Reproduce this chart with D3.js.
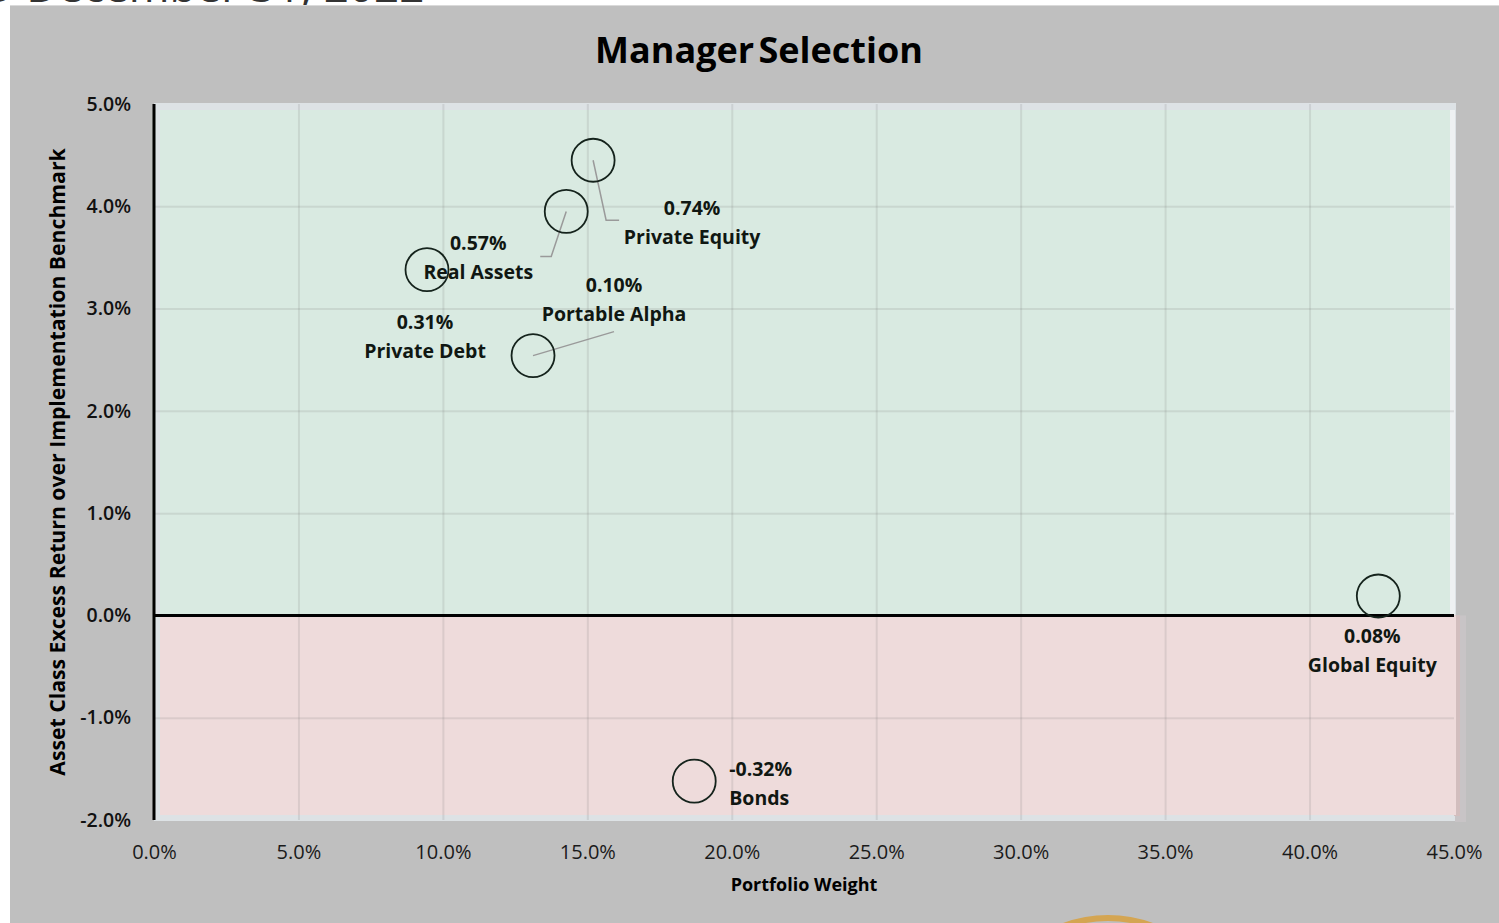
<!DOCTYPE html>
<html>
<head>
<meta charset="utf-8">
<script src="https://cdn.jsdelivr.net/npm/d3@7"></script>
<style>
  body { margin: 0; background: #fff; }
  svg { display: block; font-family: "Open Sans", Lato, sans-serif; }
</style>
</head>
<body>
<svg id="chart" width="1499" height="923"></svg>
<script>
// values
const categories = ["Private Equity", "Real Assets", "Private Debt", "Portable Alpha", "Global Equity", "Bonds"];
const weights = [15.2, 14.27, 9.45, 13.12, 42.38, 18.7];          // portfolio weight, %
const excess = [4.45, 3.95, 3.38, 2.54, 0.19, -1.62];            // excess return, %
const contrib = ["0.74%", "0.57%", "0.31%", "0.10%", "0.08%", "-0.32%"];
const xTicks = [0, 5, 10, 15, 20, 25, 30, 35, 40, 45];
const yTicks = [-2, -1, 0, 1, 2, 3, 4, 5];

// label placement, pixels relative to each bubble
const labelPos = [
  { dx: 99, dy: 48, anchor: "middle", leader: [[13, 60], [26, 60]] },
  { dx: -88, dy: 32, anchor: "middle", leader: [[-15, 45], [-26, 45]] },
  { dx: -2, dy: 52, anchor: "middle", leader: null },
  { dx: 81, dy: -70, anchor: "middle", leader: [[81, -24]] },
  { dx: -6, dy: 40, anchor: "middle", leader: null },
  { dx: 35, dy: -12, anchor: "start", leader: null }
];

const svg = d3.select("#chart");

// header text cut off by the panel
svg.append("text")
    .attr("x", -17).attr("y", 2)
    .style("font-size", "44px")
    .style("fill", "#333")
    .text("D December 31, 2022");

svg.append("rect")
    .attr("x", 10).attr("y", 5).attr("width", 1489).attr("height", 1)
    .attr("fill", "#dadada");
svg.append("rect")
    .attr("x", 10).attr("y", 6).attr("width", 1489).attr("height", 917)
    .attr("fill", "#bfbfbf");

const x = d3.scaleLinear().domain([0, 45]).range([154, 1454]);
const y = d3.scaleLinear().domain([-2, 5]).range([820, 104]);

// plot area
svg.append("rect")
    .attr("x", x(0)).attr("y", y(5) - 1)
    .attr("width", x(45) - x(0) + 2).attr("height", y(-2) - y(5) + 2)
    .attr("fill", "#dde2e5");
svg.append("rect")
    .attr("x", x(45) + 1).attr("y", y(0))
    .attr("width", 11).attr("height", y(-2) - y(0) + 2)
    .attr("fill", "#c8c4c6");
svg.append("rect")
    .attr("x", x(45)).attr("y", y(0))
    .attr("width", 6).attr("height", y(-2) - y(0) - 4)
    .attr("fill", "#d2bebe");
svg.append("rect")
    .attr("x", x(0) + 6).attr("y", y(5) + 6)
    .attr("width", x(45) - x(0) - 10).attr("height", y(0) - y(5) - 6)
    .attr("fill", "#d9eae1");
svg.append("rect")
    .attr("x", x(45) - 4).attr("y", y(5) + 6)
    .attr("width", 5).attr("height", y(0) - y(5) - 6)
    .attr("fill", "#eef1f2");
svg.append("rect")
    .attr("x", x(0) + 6).attr("y", y(0))
    .attr("width", x(45) - x(0) - 4).attr("height", y(-2) - y(0) - 5)
    .attr("fill", "#eedbdb");

// grid
svg.append("g")
    .attr("transform", `translate(0,${y(-2)})`)
    .call(d3.axisBottom(x).tickValues(xTicks.slice(1, -1)).tickSize(-(y(-2) - y(5))).tickFormat(""))
    .call(g => g.select(".domain").remove())
    .call(g => g.selectAll("line").attr("stroke", "rgba(120,120,120,0.16)").attr("stroke-width", 2));
svg.append("g")
    .attr("transform", `translate(${x(0)},0)`)
    .call(d3.axisLeft(y).tickValues(yTicks.slice(1, -1)).tickSize(-(x(45) - x(0))).tickFormat(""))
    .call(g => g.select(".domain").remove())
    .call(g => g.selectAll("line").attr("stroke", "rgba(120,120,120,0.16)").attr("stroke-width", 2));

// axes
const pct = d => d.toFixed(1) + "%";
svg.append("g")
    .attr("transform", `translate(0,${y(-2)})`)
    .call(d3.axisBottom(x).tickValues(xTicks).tickSize(0).tickPadding(25).tickFormat(pct))
    .attr("font-family", null).attr("font-size", null)
    .call(g => g.select(".domain").remove())
    .call(g => g.selectAll("text")
        .attr("fill", "#1a1a1a").style("font-size", "20px"));
svg.append("g")
    .attr("transform", `translate(${x(0)},0)`)
    .call(d3.axisLeft(y).tickValues(yTicks).tickSize(0).tickPadding(23).tickFormat(pct))
    .attr("font-family", null).attr("font-size", null)
    .call(g => g.select(".domain").remove())
    .call(g => g.selectAll("text")
        .attr("fill", "#111").style("font-size", "19.5px").style("font-weight", "600"));

svg.append("line")
    .attr("x1", x(0)).attr("x2", x(45)).attr("y1", y(0)).attr("y2", y(0))
    .attr("stroke", "#000").attr("stroke-width", 3);
svg.append("line")
    .attr("x1", x(0)).attr("x2", x(0)).attr("y1", y(5)).attr("y2", y(-2))
    .attr("stroke", "#000").attr("stroke-width", 3);

// titles
svg.append("text")
    .attr("x", 759).attr("y", 63)
    .attr("text-anchor", "middle")
    .style("font-size", "36px").style("font-weight", "bold")
    .style("word-spacing", "-5px")
    .text("Manager Selection");
svg.append("text")
    .attr("x", 804).attr("y", 891)
    .attr("text-anchor", "middle")
    .style("font-size", "18px").style("font-weight", "bold")
    .text("Portfolio Weight");
svg.append("text")
    .attr("transform", "translate(65,462) rotate(-90)")
    .attr("text-anchor", "middle")
    .style("font-size", "21.2px").style("font-weight", "bold")
    .text("Asset Class Excess Return over Implementation Benchmark");

// bubbles
const points = categories.map((c, i) => ({
  name: c, w: weights[i], r: excess[i], label: contrib[i], pos: labelPos[i]
}));

const pt = svg.append("g").selectAll("g")
  .data(points)
  .join("g")
    .attr("transform", d => `translate(${x(d.w)},${y(d.r)})`);

pt.filter(d => d.pos.leader)
  .append("path")
    .attr("d", d => d3.line()([[0, 0], ...d.pos.leader]))
    .attr("fill", "none")
    .attr("stroke", "#9a9a9a")
    .attr("stroke-width", 1.5);

pt.append("circle")
    .attr("r", 21.5)
    .attr("fill", "none")
    .attr("stroke", "#15231c")
    .attr("stroke-width", 1.8);

const lbl = pt.append("text")
    .attr("text-anchor", d => d.pos.anchor)
    .style("font-size", "19.5px")
    .style("font-weight", "bold")
    .attr("fill", "#101712");
lbl.append("tspan")
    .attr("x", d => d.pos.dx).attr("y", d => d.pos.dy).attr("dy", "0.35em")
    .text(d => d.label);
lbl.append("tspan")
    .attr("x", d => d.pos.dx).attr("y", d => d.pos.dy + 29).attr("dy", "0.35em")
    .text(d => d.name);

// logo ring peeking in at the bottom
svg.append("circle")
    .attr("cx", 1108).attr("cy", 1045).attr("r", 127)
    .attr("fill", "none")
    .attr("stroke", "#d4a552")
    .attr("stroke-width", 6);
</script>
</body>
</html>
